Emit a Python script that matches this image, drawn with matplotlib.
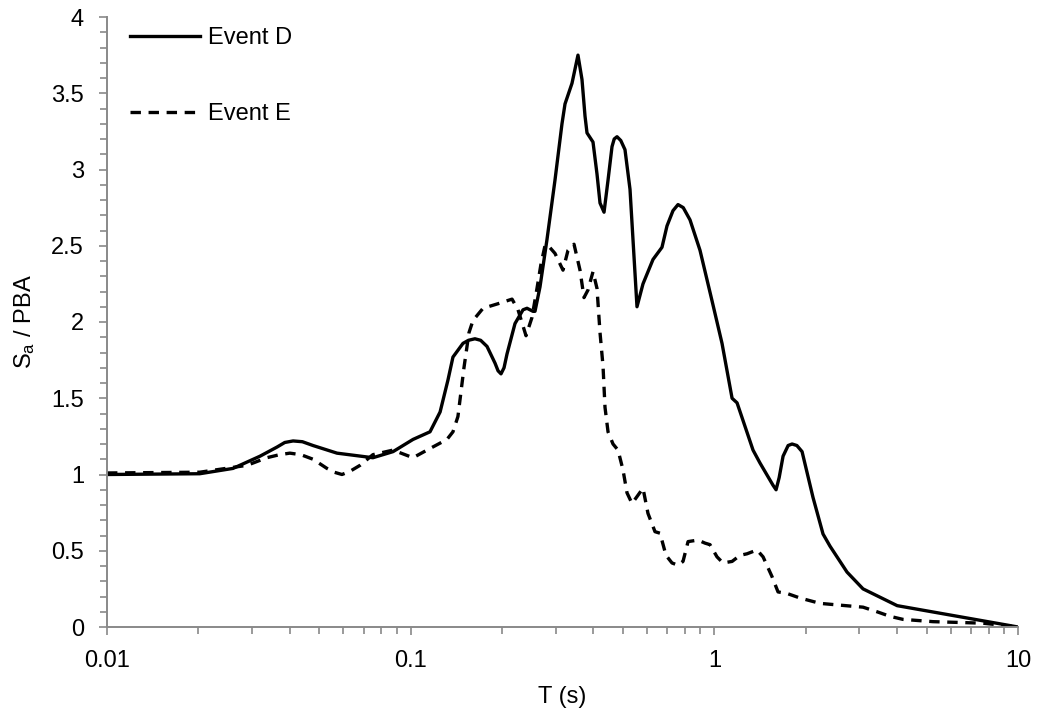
import matplotlib
matplotlib.use("Agg")
import matplotlib.pyplot as plt
from matplotlib.ticker import LogLocator, FixedLocator, MultipleLocator, FuncFormatter

plt.rcParams['font.family'] = ['Liberation Sans', 'DejaVu Sans']
plt.rcParams['mathtext.default'] = 'regular'
plt.rcParams['lines.scale_dashes'] = False

# Normalised response spectra, Sa / PBA versus period T (s)
period_d = [0.01, 0.0202, 0.0260, 0.0319, 0.0363, 0.0385, 0.0410, 0.0440, 0.0477, 0.0572,
            0.0751, 0.0875, 0.1018, 0.1158, 0.125, 0.1327, 0.1378, 0.1487, 0.1550, 0.1628,
            0.1700, 0.1784, 0.1896, 0.1940, 0.1984, 0.2030, 0.2076, 0.2206, 0.2344, 0.2416,
            0.2528, 0.2567, 0.2666, 0.2811, 0.2987, 0.3150, 0.3223, 0.3398, 0.3556, 0.3666,
            0.3751, 0.3808, 0.3985, 0.4108, 0.4203, 0.4333, 0.4466, 0.4603, 0.4680, 0.4781,
            0.4920, 0.5079, 0.5276, 0.5397, 0.5563, 0.5822, 0.6281, 0.6724, 0.6984, 0.7309,
            0.7592, 0.7900, 0.8315, 0.8971, 0.9824, 1.060, 1.144, 1.188, 1.341, 1.414,
            1.560, 1.597, 1.635, 1.684, 1.750, 1.803, 1.870, 1.945, 2.113, 2.280,
            2.404, 2.735, 3.088, 4.0, 10.0]
sa_d = [1.00, 1.005, 1.04, 1.12, 1.18, 1.21, 1.22, 1.215, 1.19, 1.14,
        1.11, 1.15, 1.23, 1.28, 1.41, 1.62, 1.77, 1.86, 1.88, 1.89,
        1.88, 1.84, 1.73, 1.68, 1.66, 1.70, 1.79, 1.99, 2.08, 2.09,
        2.07, 2.07, 2.23, 2.54, 2.93, 3.30, 3.43, 3.565, 3.75, 3.59,
        3.35, 3.24, 3.18, 2.97, 2.78, 2.72, 2.93, 3.15, 3.20, 3.215,
        3.19, 3.13, 2.87, 2.54, 2.10, 2.25, 2.41, 2.49, 2.63, 2.73,
        2.77, 2.75, 2.67, 2.47, 2.14, 1.86, 1.50, 1.47, 1.16, 1.075,
        0.93, 0.90, 0.98, 1.12, 1.19, 1.20, 1.19, 1.15, 0.85, 0.61,
        0.53, 0.36, 0.25, 0.14, 0.0]

period_e = [0.01, 0.0202, 0.0289, 0.0336, 0.0370, 0.0400, 0.0435, 0.0477, 0.0530, 0.0560,
            0.0594, 0.0630, 0.0681, 0.0751, 0.0875, 0.1018, 0.1132, 0.1317, 0.1378, 0.1431,
            0.1498, 0.1556, 0.1604, 0.1731, 0.1940, 0.2157, 0.2257, 0.2398, 0.2509, 0.2606,
            0.2686, 0.2769, 0.2811, 0.2987, 0.3174, 0.3297, 0.3451, 0.3611, 0.3722, 0.3837,
            0.3985, 0.4108, 0.4203, 0.4300, 0.4365, 0.4466, 0.4638, 0.4818, 0.5003, 0.5157,
            0.5357, 0.5563, 0.5822, 0.6046, 0.6377, 0.6624, 0.6931, 0.7254, 0.7592, 0.7886,
            0.8194, 0.8835, 0.9318, 0.9676, 1.0204, 1.068, 1.144, 1.215, 1.281, 1.382,
            1.447, 1.549, 1.621, 1.735, 1.915, 2.228, 2.535, 3.088, 3.433, 3.788,
            4.18, 5.25, 7.67, 10.0]
sa_e = [1.01, 1.015, 1.06, 1.11, 1.13, 1.14, 1.13, 1.10, 1.04, 1.015,
        1.00, 1.02, 1.06, 1.13, 1.16, 1.11, 1.16, 1.23, 1.28, 1.38,
        1.70, 1.93, 2.01, 2.09, 2.12, 2.15, 2.08, 1.91, 2.03, 2.22,
        2.38, 2.50, 2.51, 2.45, 2.34, 2.47, 2.51, 2.34, 2.16, 2.21,
        2.33, 2.22, 1.93, 1.71, 1.44, 1.28, 1.20, 1.16, 1.03, 0.88,
        0.81, 0.855, 0.91, 0.745, 0.625, 0.615, 0.47, 0.42, 0.405, 0.43,
        0.56, 0.57, 0.55, 0.54, 0.46, 0.42, 0.43, 0.47, 0.48, 0.505,
        0.46, 0.33, 0.23, 0.22, 0.19, 0.155, 0.145, 0.13, 0.10, 0.07,
        0.05, 0.035, 0.025, 0.0]

series_labels = ['Event D', 'Event E']
x_ticks = [0.01, 0.1, 1, 10]
x_tick_labels = ['0.01', '0.1', '1', '10']
y_ticks = [0, 0.5, 1, 1.5, 2, 2.5, 3, 3.5, 4]

W, H = 1043, 717
fig = plt.figure(figsize=(W / 100, H / 100), dpi=100)
ax = fig.add_axes([107 / W, 1 - 627 / H, (1018 - 107) / W, (627 - 17) / H])

ax.plot(period_d, sa_d, color='black', lw=2.4, solid_joinstyle='round',
        label=series_labels[0])
ax.plot(period_e, sa_e, color='black', lw=2.4, dashes=(7.5, 5.5),
        dash_capstyle='butt', dash_joinstyle='round', label=series_labels[1])

ax.set_xscale('log')
ax.set_xlim(0.01, 10)
ax.set_ylim(0, 4)

ax.xaxis.set_major_locator(FixedLocator(x_ticks))
ax.xaxis.set_major_formatter(FuncFormatter(lambda v, p: x_tick_labels[x_ticks.index(v)] if v in x_ticks else ''))
ax.xaxis.set_minor_locator(LogLocator(base=10, subs=range(2, 10)))
ax.xaxis.set_minor_formatter(FuncFormatter(lambda v, p: ''))
ax.yaxis.set_major_locator(FixedLocator(y_ticks))
ax.yaxis.set_major_formatter(FuncFormatter(lambda v, p: f'{v:g}'))
ax.yaxis.set_minor_locator(MultipleLocator(0.1))

spine_col = '#898989'
for s in ['top', 'right']:
    ax.spines[s].set_visible(False)
for s in ['left', 'bottom']:
    ax.spines[s].set_color(spine_col)
    ax.spines[s].set_linewidth(1.4)

ax.tick_params(which='both', direction='out', color=spine_col, width=1.2,
               labelsize=17, labelcolor='black')
ax.tick_params(which='major', length=5.5)
ax.tick_params(which='minor', length=5)
ax.tick_params(axis='y', which='major', pad=11)
ax.tick_params(axis='x', which='major', pad=11)

ax.set_xlabel('T (s)', fontsize=17, labelpad=10)
ax.set_ylabel('$S_a$ / PBA', fontsize=17, labelpad=10)

leg = ax.legend(loc='upper left', bbox_to_anchor=(130 / W, 1 - 27 / H),
                bbox_transform=fig.transFigure, frameon=False, fontsize=17,
                handlelength=2.95, handletextpad=0.35, labelspacing=2.28,
                borderaxespad=0, borderpad=0)

fig.savefig('out.png', dpi=100)
